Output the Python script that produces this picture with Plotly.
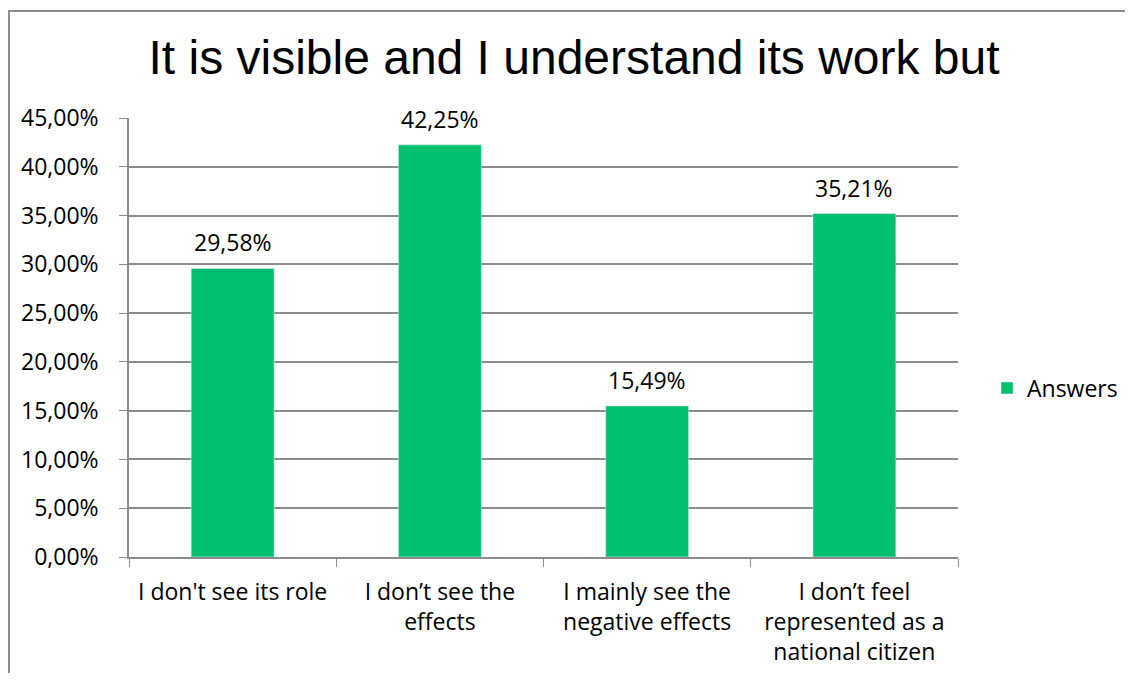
import plotly.graph_objects as go

categories = [
    "I don't see its role",
    "I don’t see the<br>effects",
    "I mainly see the<br>negative effects",
    "I don’t feel<br>represented as a<br>national citizen",
]
answers = [0.2958, 0.4225, 0.1549, 0.3521]
labels = ["29,58%", "42,25%", "15,49%", "35,21%"]

green = "#00BF6F"
grey = "#8C8C8C"
body_font = "Open Sans"
fs = 23

W, H = 1117, 665  # leaves room for the page's 8px body margin

fig = go.Figure()
fig.add_trace(go.Bar(
    x=categories,
    y=answers,
    name="Answers",
    marker_color=green,
    showlegend=True,
))

# value labels sit a bit above the bars, like the Excel original
for cat, val, lab in zip(categories, answers, labels):
    fig.add_annotation(
        x=cat, y=val, text=lab, showarrow=False,
        yanchor="bottom", yshift=8,
        font=dict(family=body_font, size=fs, color="black"),
    )

# outer chart border (left/top visible, right/bottom run off the figure)
fig.add_shape(
    type="rect", xref="paper", yref="paper",
    x0=-0.1448, x1=1.25, y0=-0.33, y1=1.244,
    line=dict(color=grey, width=2), layer="below",
)

fig.update_layout(
    width=W,
    height=H,
    margin=dict(l=121, r=167, t=110, b=116),
    paper_bgcolor="white",
    plot_bgcolor="white",
    separators=",.",
    bargap=0.6,
    title=dict(
        text="It is visible and I understand its work but",
        font=dict(family="Liberation Sans", size=48, color="black"),
        x=566 / W, xanchor="center",
        y=1 - 49 / H, yanchor="middle", yref="container",
    ),
    legend=dict(
        xref="container", yref="container",
        x=979 / W, y=1 - 380 / H, xanchor="left", yanchor="middle",
        font=dict(family=body_font, size=fs, color="black"),
        itemwidth=30,
    ),
    font=dict(family=body_font, size=fs, color="black"),
)

fig.update_yaxes(
    range=[0, 0.45],
    dtick=0.05,
    tickformat=".2%",
    automargin=False,
    showgrid=True, gridcolor=grey, gridwidth=1.5,
    showline=True, linecolor=grey, linewidth=1.5,
    ticks="outside", ticklen=8, tickcolor=grey,
    ticklabelstandoff=16,
    zeroline=False,
    tickfont=dict(family=body_font, size=fs, color="black"),
)
fig.update_xaxes(
    automargin=False,
    showline=True, linecolor=grey, linewidth=1.5,
    ticks="outside", ticklen=8, tickcolor=grey,
    tickson="boundaries",
    ticklabelstandoff=14,
    tickfont=dict(family=body_font, size=fs, color="black"),
)

fig.write_html("out.html")
